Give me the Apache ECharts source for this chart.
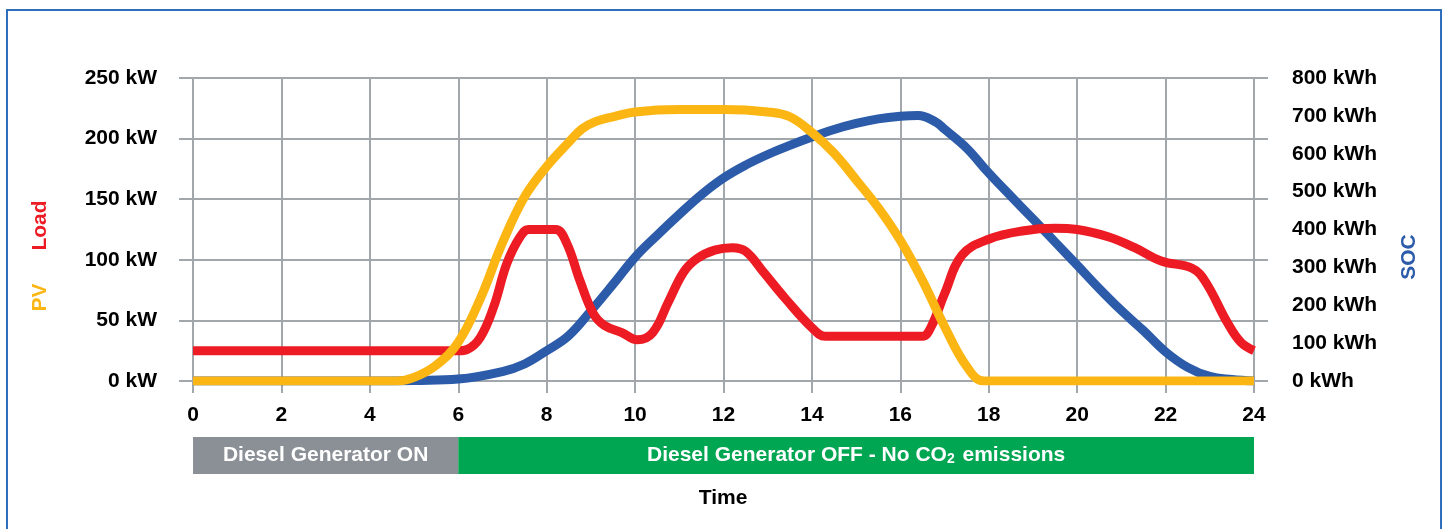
<!DOCTYPE html>
<html>
<head>
<meta charset="utf-8">
<script src="https://cdn.jsdelivr.net/npm/echarts@6/dist/echarts.min.js"></script>
<style>
  html, body { margin: 0; padding: 0; background: #fff; }
  #chart { width: 1450px; height: 529px; }
</style>
</head>
<body>
<div id="chart"></div>
<script>
// hours of the day
var hourTicks = [0, 2, 4, 6, 8, 10, 12, 14, 16, 18, 20, 22, 24]

// PV production [hour, kW]
var pvData = [
  [0, 0], [2, 0], [4, 0], [4.6, 0], [5, 3], [5.5, 13], [6, 32], [6.5, 68], [7, 114], [7.5, 152],
  [8, 177], [8.5, 197], [8.8, 208], [9.1, 214], [9.5, 218], [10, 222], [11, 224], [12, 224], [13, 222],
  [13.5, 218], [14, 205], [14.5, 188], [15, 166], [15.5, 143], [16, 116], [16.5, 83],
  [17, 45], [17.5, 12], [17.9, 0], [20, 0], [22, 0], [24, 0]
]

// Load [hour, kW]
var loadData = [
  [0, 25], [3, 25], [6, 25], [6.2, 26], [6.5, 36], [6.8, 61], [7.1, 97], [7.4, 119], [7.6, 125],
  [8.2, 125], [8.45, 114], [8.75, 83], [9.05, 56], [9.3, 46], [9.7, 40], [10.05, 34], [10.4, 40],
  [10.75, 65], [11.1, 90], [11.4, 101], [11.8, 108], [12.2, 110], [12.5, 107], [12.9, 90],
  [13.4, 68], [14, 44], [14.3, 37], [15.5, 37], [16.5, 37], [16.7, 45], [17, 72], [17.4, 104],
  [18, 117], [18.8, 124], [19.5, 126], [20, 125], [20.7, 119], [21.3, 110], [21.9, 99],
  [22.6, 93], [22.9, 82], [23.4, 48], [23.7, 32], [24, 25]
]

// battery state of charge [hour, kWh]
var socData = [
  [0, 0], [2, 0], [4.5, 0], [5, 1], [6, 5], [7, 25], [7.5, 45], [8, 80], [8.5, 120], [9, 185],
  [9.5, 255], [10, 327], [10.5, 385], [11, 440], [11.5, 492], [12, 536], [12.5, 570], [13, 598],
  [13.5, 622], [14, 644], [14.5, 664], [15, 680], [15.5, 692], [16, 699], [16.4, 701],
  [16.8, 684], [17, 665], [17.5, 615], [18, 549], [18.5, 488], [19, 428], [19.5, 367],
  [20, 306], [20.5, 244], [21, 186], [21.5, 133], [22, 77], [22.5, 36], [23, 12], [23.5, 4], [24, 0]
]

// generator phases [from, to, label]
var generatorPhases = [
  [0, 6, 'Diesel Generator ON'],
  [6, 24, 'Diesel Generator OFF - No CO{sub|2} emissions']
]
var phaseColors = ['#8a9096', '#00a651']

var gridColor = '#a2a7ac'
var font = '"Liberation Sans", Arial, sans-serif'

var chart = echarts.init(document.getElementById('chart'))

var option = {
  backgroundColor: '#fff',
  animation: false,
  textStyle: { fontFamily: font },
  grid: [
    { left: 193, right: 196, top: 78, bottom: 148 },
    { left: 193, right: 196, top: 437, height: 37 }
  ],
  xAxis: [
    {
      type: 'value', gridIndex: 0, min: 0, max: 24, interval: 2,
      axisLine: { show: true, lineStyle: { color: gridColor, width: 2 } },
      axisTick: { show: true, length: 12, lineStyle: { color: gridColor, width: 2 } },
      splitLine: { show: true, lineStyle: { color: gridColor, width: 2 } },
      axisLabel: { color: '#000', fontSize: 21, fontWeight: 'bold', margin: 24, fontFamily: font }
    },
    {
      type: 'value', gridIndex: 0, position: 'top', min: 0, max: 24, interval: 2,
      axisLine: { show: false },
      axisTick: { show: true, length: 8, lineStyle: { color: gridColor, width: 2 } },
      splitLine: { show: false },
      axisLabel: { show: false }
    },
    {
      type: 'value', gridIndex: 1, min: 0, max: 24, show: false
    }
  ],
  yAxis: [
    {
      type: 'value', gridIndex: 0, position: 'left', min: 0, max: 250, interval: 50,
      axisLine: { show: true, lineStyle: { color: gridColor, width: 2 } },
      axisTick: { show: true, length: 14, lineStyle: { color: gridColor, width: 2 } },
      splitLine: { show: true, lineStyle: { color: gridColor, width: 2 } },
      axisLabel: { color: '#000', fontSize: 21, fontWeight: 'bold', margin: 36, formatter: '{value} kW', fontFamily: font }
    },
    {
      type: 'value', gridIndex: 0, position: 'right', min: 0, max: 800, interval: 100,
      axisLine: { show: false },
      axisTick: { show: false },
      splitLine: { show: false },
      axisLabel: { color: '#000', fontSize: 21, fontWeight: 'bold', margin: 38, formatter: '{value} kWh', fontFamily: font }
    },
    {
      type: 'value', gridIndex: 0, position: 'right', min: 0, max: 250, interval: 50,
      axisLine: { show: true, lineStyle: { color: gridColor, width: 2 } },
      axisTick: { show: true, length: 14, lineStyle: { color: gridColor, width: 2 } },
      splitLine: { show: false },
      axisLabel: { show: false }
    },
    {
      type: 'value', gridIndex: 1, min: 0, max: 1, show: false
    }
  ],
  series: [
    {
      name: 'SOC', type: 'line', xAxisIndex: 0, yAxisIndex: 1,
      data: socData, smooth: 0.4, showSymbol: false,
      lineStyle: { color: '#2c5ca9', width: 9, cap: 'butt' }
    },
    {
      name: 'Load', type: 'line', xAxisIndex: 0, yAxisIndex: 0,
      data: loadData, smooth: 0.4, showSymbol: false,
      lineStyle: { color: '#ed1c24', width: 9, cap: 'butt' }
    },
    {
      name: 'PV', type: 'line', xAxisIndex: 0, yAxisIndex: 0,
      data: pvData, smooth: 0.4, showSymbol: false,
      lineStyle: { color: '#fbb614', width: 9, cap: 'butt' }
    },
    {
      name: 'Generator', type: 'line', xAxisIndex: 2, yAxisIndex: 3,
      data: [], silent: true,
      markArea: {
        silent: true,
        label: {
          show: true, position: 'inside', color: '#fff', fontSize: 21, fontWeight: 'bold', fontFamily: font,
          rich: {
            sub: { fontSize: 14, fontWeight: 'bold', color: '#fff', padding: [8, 2, 0, 0], fontFamily: font }
          }
        },
        data: generatorPhases.map(function(p, i) {
          return [
            { name: p[2], xAxis: p[0], yAxis: 0, itemStyle: { color: phaseColors[i] } },
            { xAxis: p[1], yAxis: 1 }
          ]
        })
      }
    }
  ],
  graphic: [
    {
      type: 'rect', silent: true,
      shape: { x: 7, y: 10, width: 1434, height: 560 },
      style: { fill: 'none', stroke: '#2f6fb9', lineWidth: 2 }
    },
    {
      type: 'text', x: 723, y: 498,
      style: { text: 'Time', font: 'bold 21px ' + font, fill: '#000', align: 'center', verticalAlign: 'middle' }
    },
    {
      type: 'text', x: 40, y: 256, rotation: Math.PI / 2,
      style: {
        text: '{pv|PV}{gap|}{load|Load}', align: 'center', verticalAlign: 'middle',
        rich: {
          pv: { font: 'bold 21px ' + font, fill: '#fbb614' },
          gap: { width: 33 },
          load: { font: 'bold 21px ' + font, fill: '#ed1c24' }
        }
      }
    },
    {
      type: 'text', x: 1409, y: 257, rotation: Math.PI / 2,
      style: { text: 'SOC', font: 'bold 21px ' + font, fill: '#2c5ca9', align: 'center', verticalAlign: 'middle' }
    }
  ]
}

chart.setOption(option)
window.addEventListener('resize', function() {
  chart.resize()
})
</script>
</body>
</html>
